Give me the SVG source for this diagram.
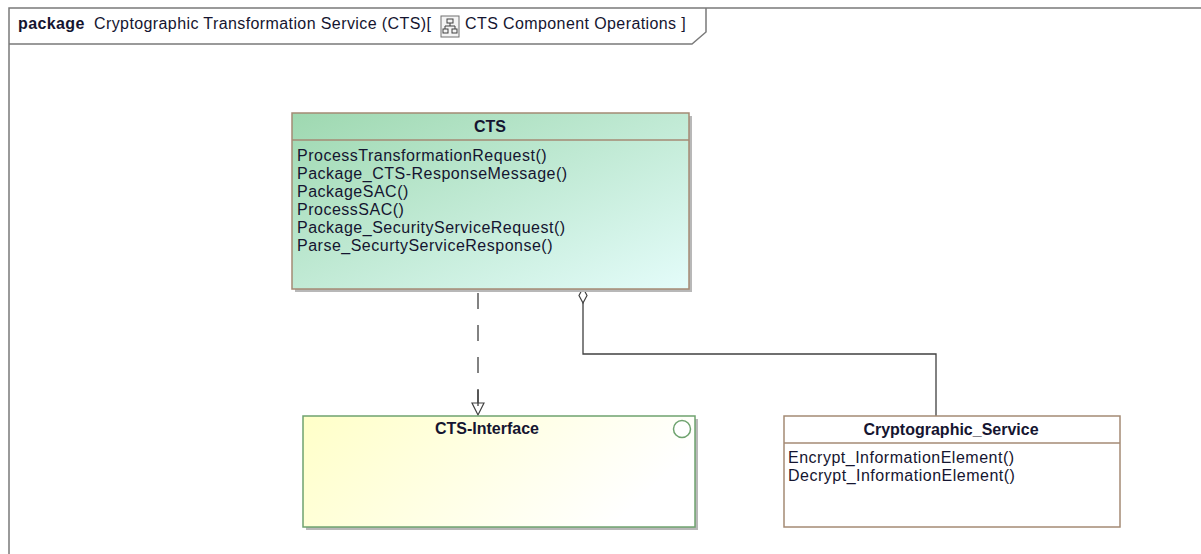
<svg xmlns="http://www.w3.org/2000/svg" width="1201" height="554" viewBox="0 0 1201 554">
<style>
text{font-family:"Liberation Sans",Arial,sans-serif;fill:#151530;}
.op{font-size:16px;letter-spacing:0.5px;}
.title{font-size:16px;font-weight:bold;text-anchor:middle;}
.hdr{font-size:16px;letter-spacing:0.4px;}
.frame{fill:none;stroke:#7a7a7a;stroke-width:1.5;}
.cls{stroke:#a48a74;stroke-width:1.5;}
.conn{fill:none;stroke:#404040;stroke-width:1.3;}
.shadow{fill:#b8b8b8;}
</style>
<defs>
<linearGradient id="gCTS" x1="0" y1="0" x2="1" y2="1">
<stop offset="0" stop-color="#9ed8b0"/>
<stop offset="1" stop-color="#e4fcfa"/>
</linearGradient>
<linearGradient id="gIF" x1="0" y1="0" x2="1" y2="0.3">
<stop offset="0" stop-color="#ffffc8"/>
<stop offset="1" stop-color="#ffffff"/>
</linearGradient>
<marker id="realize" markerUnits="userSpaceOnUse" markerWidth="16" markerHeight="14" refX="13" refY="7" orient="auto">
<path d="M1,1 L13,7 L1,13 Z" fill="#ffffff" stroke="#404040" stroke-width="1.2"/>
</marker>
<marker id="aggr" markerUnits="userSpaceOnUse" markerWidth="18" markerHeight="10" refX="1" refY="5" orient="auto">
<path d="M1,5 L8.5,1 L16,5 L8.5,9 Z" fill="#ffffff" stroke="#404040" stroke-width="1.2"/>
</marker>
</defs>
<rect x="0" y="0" width="1201" height="554" fill="#ffffff"/>
<g id="frame">
<path class="frame" d="M9,554 L9,8 L1201,8"/>
<path class="frame" d="M706,8 L706,32 L692,44 L9,44"/>
<text x="18" y="29" class="hdr" font-weight="bold" fill="#000">package</text>
<text x="94" y="29" class="hdr">Cryptographic Transformation Service (CTS)[</text>
<g id="diagram-icon">
<rect x="441" y="16" width="18" height="21" fill="#f4f4f4" stroke="#707070" stroke-width="1"/>
<rect x="447" y="19" width="6" height="4" fill="none" stroke="#404040" stroke-width="1"/>
<path d="M450,23 L450,26 M445,26 L455,26 M445,26 L445,29 M455,26 L455,29" fill="none" stroke="#404040" stroke-width="1"/>
<rect x="443" y="29" width="5" height="4" fill="none" stroke="#404040" stroke-width="1"/>
<rect x="452" y="29" width="5" height="4" fill="none" stroke="#404040" stroke-width="1"/>
</g>
<text x="465" y="29" class="hdr">CTS Component Operations ]</text>
</g>
<g id="connectors">
<path class="conn" d="M478,293 L478,415" stroke-dasharray="16,16" stroke="#606060" marker-end="url(#realize)"/>
<path class="conn" d="M478,390 L478,406"/>
<path class="conn" d="M583,288 L583,354 L936,354 L936,416" marker-start="url(#aggr)"/>
</g>
<g id="CTS">
<rect class="shadow" x="295" y="116" width="397" height="176"/>
<rect class="cls" x="292" y="113" width="397" height="176" fill="url(#gCTS)"/>
<line class="cls" x1="292" y1="140" x2="689" y2="140"/>
<text class="title" x="490" y="132">CTS</text>
<text class="op" x="297" y="161">ProcessTransformationRequest()</text>
<text class="op" x="297" y="179">Package_CTS-ResponseMessage()</text>
<text class="op" x="297" y="197">PackageSAC()</text>
<text class="op" x="297" y="215">ProcessSAC()</text>
<text class="op" x="297" y="233">Package_SecurityServiceRequest()</text>
<text class="op" x="297" y="251">Parse_SecurtyServiceResponse()</text>
</g>
<g id="CTS-Interface">
<rect class="shadow" x="306" y="419" width="392" height="111"/>
<rect x="303" y="416" width="392" height="111" fill="url(#gIF)" stroke="#6fa36f" stroke-width="1.5"/>
<text class="title" x="487" y="434">CTS-Interface</text>
<circle cx="682" cy="429" r="8.5" fill="#ffffff" stroke="#6fa36f" stroke-width="1.5"/>
</g>
<g id="Cryptographic_Service">
<rect class="cls" x="784" y="416" width="336" height="111" fill="#ffffff"/>
<line class="cls" x1="784" y1="443" x2="1120" y2="443"/>
<text class="title" x="951" y="435">Cryptographic_Service</text>
<text class="op" x="788" y="463">Encrypt_InformationElement()</text>
<text class="op" x="788" y="481">Decrypt_InformationElement()</text>
</g>
</svg>
